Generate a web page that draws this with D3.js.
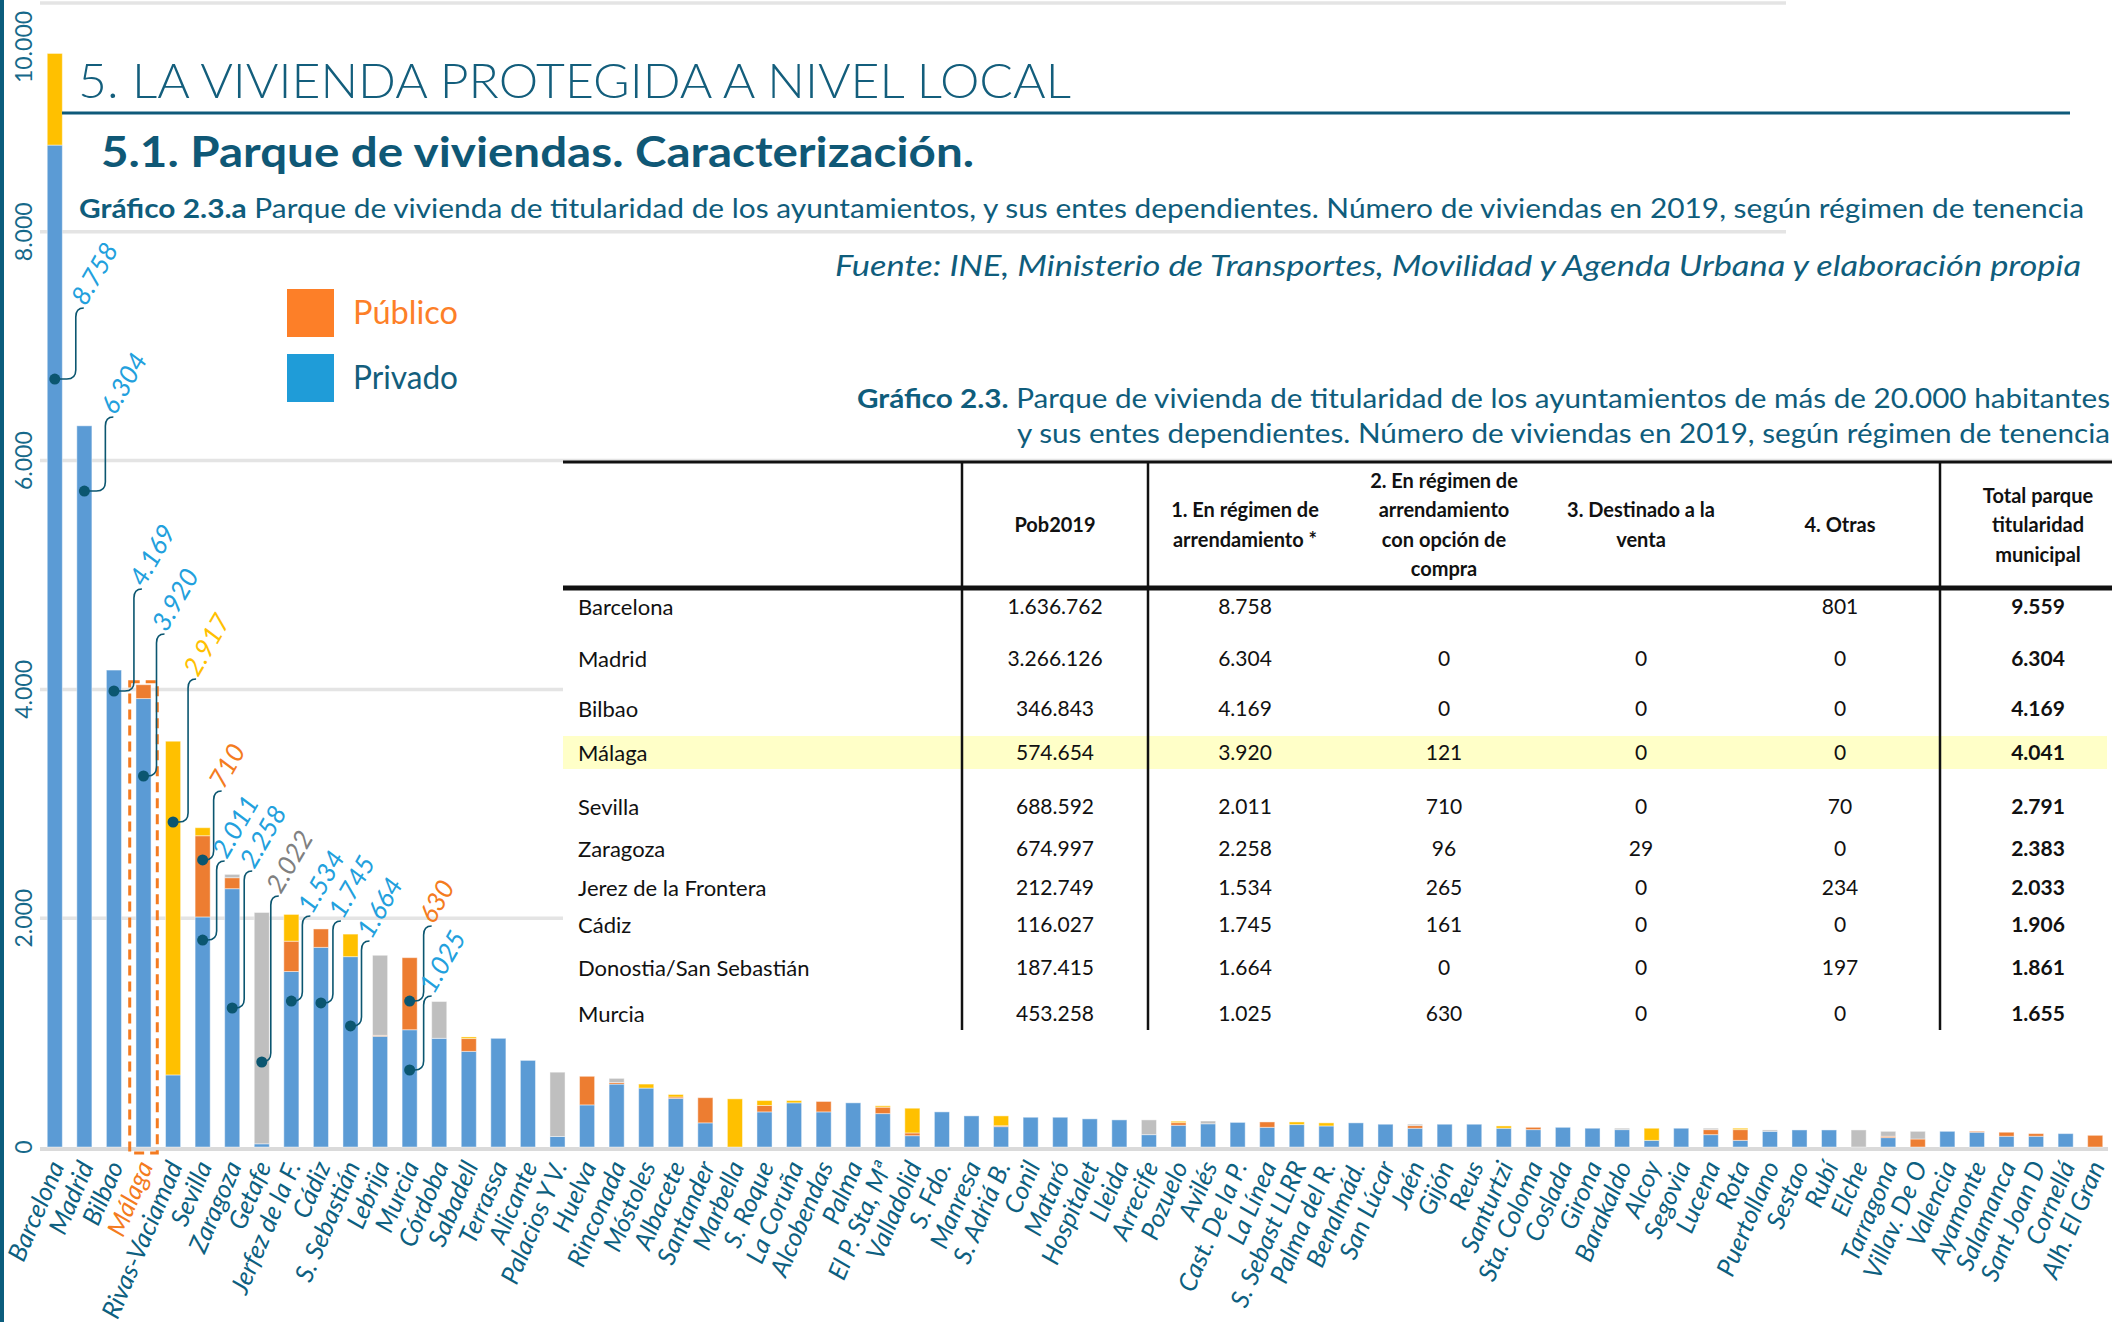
<!DOCTYPE html>
<html><head><meta charset="utf-8">
<script src="https://cdn.jsdelivr.net/npm/d3@7"></script>
<style>
html,body{margin:0;padding:0;background:#fff;}
svg{display:block;}
</style></head><body>
<script>
// ---------------- DATA ----------------
const categories = ["Barcelona","Madrid","Bilbao","Málaga","Rivas-Vaciamad","Sevilla","Zaragoza","Getafe","Jerfez de la F.","Cádiz","S. Sebastián","Lebrija","Murcia","Córdoba","Sabadell","Terrassa","Alicante","Palacios Y V.","Huelva","Rinconada","Móstoles","Albacete","Santander","Marbella","S. Roque","La Coruña","Alcobendas","Palma","El P. Sta, Mª","Valladolid","S. Fdo.","Manresa","S. Adriá B.","Conil","Mataró","Hospitalet","Lleida","Arrecife","Pozuelo","Avilés","Cast. De la P.","La Línea","S. Sebast LLRR","Palma del R.","Benalmád.","San Lúcar","Jaén","Gijón","Reus","Santurtzi","Sta.  Coloma","Coslada","Girona","Barakaldo","Alcoy","Segovia","Lucena","Rota","Puertollano","Sestao","Rubí","Elche","Tarragona","Villav. De O","Valencia","Ayamonte","Salamanca","Sant Joan D","Cornellá","Alh. El Gran"];
const arrendamiento = [8758,6304,4169,3920,630,2011,2258,28,1534,1745,1664,968,1025,950,836,950,757,92,368,550,515,425,211,0,307,386,307,386,292,99,307,272,178,260,260,246,237,108,190,203,215,172,196,184,211,199,164,199,199,164,152,172,164,152,58,164,108,58,137,149,149,0,82,0,137,129,94,94,117,0];
const opcionCompra = [0,0,0,121,0,710,96,0,265,161,0,8,630,0,112,0,0,0,250,14,0,12,220,0,56,0,91,0,56,24,0,0,8,0,0,0,0,0,23,0,0,47,0,0,0,0,23,0,0,0,20,0,0,0,0,0,44,94,0,0,0,0,12,70,0,8,35,23,0,102];
const destinadoVenta = [0,0,0,0,0,0,29,2022,0,0,0,700,0,322,0,0,0,562,0,36,0,0,0,0,0,0,0,0,0,0,0,0,0,0,0,0,0,129,0,24,0,0,0,0,0,0,12,0,0,0,0,0,0,12,0,0,12,0,12,0,0,149,43,67,0,0,0,0,0,0];
const otras = [801,0,0,0,2917,70,0,0,234,0,197,0,0,0,14,0,0,0,0,0,35,22,0,421,43,20,0,0,12,216,0,0,86,0,0,0,0,0,12,0,0,0,23,27,0,0,0,0,0,20,0,0,0,0,106,0,0,12,0,0,0,0,0,0,0,0,0,0,0,0];
const seriesKeys = ["arrendamiento","opcionCompra","destinadoVenta","otras"];
const seriesColors = ["#5b9bd5","#ed7d31","#bfbfbf","#ffc000"];
const yTicks = [0,2000,4000,6000,8000,10000];
const yTickLabels = ["0","2.000","4.000","6.000","8.000","10.000"];
const highlightCategory = "Málaga";
const legendLabels = ["Público","Privado"];

// callouts (category, series whose value is printed)
const calloutCats = ["Barcelona","Madrid","Bilbao","Málaga","Rivas-Vaciamad","Sevilla","Sevilla","Zaragoza","Getafe","Jerfez de la F.","Cádiz","S. Sebastián","Murcia","Murcia"];
const calloutSeries = ["arrendamiento","arrendamiento","arrendamiento","arrendamiento","otras","opcionCompra","arrendamiento","arrendamiento","destinadoVenta","arrendamiento","arrendamiento","arrendamiento","opcionCompra","arrendamiento"];

// table
const tableHeaders = [["Pob2019"],["1. En régimen de","arrendamiento *"],["2. En régimen de","arrendamiento","con opción de","compra"],["3. Destinado a la","venta"],["4. Otras"],["Total parque","titularidad","municipal"]];
const tableCities = ["Barcelona","Madrid","Bilbao","Málaga","Sevilla","Zaragoza","Jerez de la Frontera","Cádiz","Donostia/San Sebastián","Murcia"];
const tablePob = [1636762,3266126,346843,574654,688592,674997,212749,116027,187415,453258];
const tableArr = [8758,6304,4169,3920,2011,2258,1534,1745,1664,1025];
const tableOpc = [null,0,0,121,710,96,265,161,0,630];
const tableVenta = [null,0,0,0,0,29,0,0,0,0];
const tableOtras = [801,0,0,0,70,0,234,0,197,0];
const tableTotal = [9559,6304,4169,4041,2791,2383,2033,1906,1861,1655];

// ---------------- LAYOUT (not data) ----------------
const calloutDot = [6713,5734,3986,3243,2841,2509,1809,1215,743,1276,1259,1058,1276,673];
const calloutDx = [29,29,28,21,23,19,22,20,17,19,20,19,22,22];
const calloutRise = [71,74,102,142,143,69,79,137,166,85,82,85,75,74];
const tableColX = [1055,1245,1444,1641,1840,2038];
const tableRowY = [607,659,709,753,807,849,888,925,968,1014];

// ---------------- RENDER ----------------
const W = 2112, H = 1322;
const FONT = "Lato, 'Noto Sans', 'DejaVu Sans', sans-serif";
const TEAL = "#0f5d7c";
const es = d3.formatLocale({decimal:",", thousands:".", grouping:[3], currency:["","€"]});
const fmt = es.format(",d");

const svg = d3.select("body").append("svg").attr("width", W).attr("height", H)
  .style("font-family", FONT);

const x = d3.scaleBand().domain(categories).range([40, 2110]).paddingInner(0.49).paddingOuter(0.245);
const y = d3.scaleLinear().domain([0, 10000]).range([1147, 3]);
const color = d3.scaleOrdinal().domain(seriesKeys).range(seriesColors);
const seriesData = {arrendamiento, opcionCompra, destinadoVenta, otras};
const rows = categories.map((c, i) => {
  const r = {cat: c};
  seriesKeys.forEach(k => r[k] = seriesData[k][i]);
  return r;
});
const stacked = d3.stack().keys(seriesKeys)(rows);

// left accent bar
svg.append("rect").attr("x", 0).attr("y", 0).attr("width", 4).attr("height", H).attr("fill", "#0c5d7d");

// gridlines
svg.append("g").selectAll("line").data(yTicks.filter(v => v > 0)).join("line")
  .attr("x1", 40).attr("x2", W).attr("y1", d => y(d)).attr("y2", d => y(d))
  .attr("stroke", "#e4e4e4").attr("stroke-width", 3.5);
// zero line
svg.append("line").attr("x1", 40).attr("x2", W - 4).attr("y1", y(0) + 2).attr("y2", y(0) + 2)
  .attr("stroke", "#dadada").attr("stroke-width", 4);
// white cover at top-right (gridlines stop there)
svg.append("rect").attr("x", 1786).attr("y", 0).attr("width", W - 1786).attr("height", 250).attr("fill", "#fff");

// bars
svg.append("g").selectAll("g").data(stacked).join("g")
  .attr("fill", d => color(d.key))
  .selectAll("rect").data(d => d).join("rect")
  .attr("x", d => x(d.data.cat))
  .attr("width", x.bandwidth())
  .attr("y", d => y(d[1]))
  .attr("height", d => Math.max(0, y(d[0]) - y(d[1])))
  .attr("stroke", "rgba(255,255,255,0.45)").attr("stroke-width", 1);

// y axis labels
svg.append("g").selectAll("text").data(yTicks).join("text")
  .attr("transform", d => `translate(32,${Math.min(1153, Math.max(47, y(d)))}) rotate(-90)`)
  .attr("text-anchor", "middle")
  .attr("font-size", 23).attr("fill", "#16698a")
  .text((d, i) => yTickLabels[i]);

// x axis labels
svg.append("g").selectAll("text").data(categories).join("text")
  .attr("transform", d => `translate(${x(d) + x.bandwidth() / 2 + 10},1166) rotate(-67)`)
  .attr("text-anchor", "end")
  .attr("font-size", 25.5).attr("font-style", "italic")
  .attr("fill", d => d === highlightCategory ? "#f47b20" : "#0d5f80")
  .text(d => d);

// Málaga dashed box
const hIdx = categories.indexOf(highlightCategory);
const hTotal = seriesKeys.reduce((s, k) => s + seriesData[k][hIdx], 0);
svg.append("rect")
  .attr("x", x(highlightCategory) + x.bandwidth() / 2 - x.step() / 2 + 1)
  .attr("y", y(hTotal) - 3)
  .attr("width", x.step() - 2)
  .attr("height", y(0) + 6 - (y(hTotal) - 3))
  .attr("fill", "none").attr("stroke", "#f47b20").attr("stroke-width", 3)
  .attr("stroke-dasharray", "10,6");

// callouts
const labelColor = {arrendamiento: "#22a0dd", opcionCompra: "#f47b20", destinadoVenta: "#808080", otras: "#ffc000"};
const cg = svg.append("g");
calloutCats.forEach((c, i) => {
  const idx = categories.indexOf(c);
  const val = seriesData[calloutSeries[i]][idx];
  const cx = x(c) + x.bandwidth() / 2;
  const y0 = y(calloutDot[i]);
  const xt = cx + calloutDx[i], yt = y0 - calloutRise[i];
  const xv = xt - 8, r = 9;
  cg.append("path")
    .attr("d", `M${cx},${y0} H${xv - r} Q${xv},${y0} ${xv},${y0 - r} V${yt + r} Q${xv},${yt} ${xt},${yt}`)
    .attr("fill", "none").attr("stroke", "#0b5670").attr("stroke-width", 1.6);
  cg.append("circle").attr("cx", cx).attr("cy", y0).attr("r", 5.5).attr("fill", "#0b5670");
  cg.append("text")
    .attr("transform", `translate(${xt + 2},${yt - 1}) rotate(-60)`)
    .attr("font-size", 26).attr("font-style", "italic")
    .attr("fill", labelColor[calloutSeries[i]])
    .text(fmt(val));
});

// ---------------- HEADER ----------------
function fit(sel, target) {
  sel.each(function () {
    const w = this.getComputedTextLength();
    if (Math.abs(w - target) / target > 0.01) {
      d3.select(this).attr("textLength", target).attr("lengthAdjust", "spacingAndGlyphs");
    }
  });
}
const title = svg.append("text").attr("x", 78).attr("y", 98).attr("font-size", 48)
  .attr("font-weight", 300).attr("fill", "#135e7c").text("5. LA VIVIENDA PROTEGIDA A NIVEL LOCAL");
fit(title, 993);
svg.append("line").attr("x1", 62).attr("x2", 2070).attr("y1", 113).attr("y2", 113)
  .attr("stroke", "#0e5a7a").attr("stroke-width", 3);
const sub = svg.append("text").attr("x", 101).attr("y", 167).attr("font-size", 42)
  .attr("font-weight", 700).attr("fill", "#0f5876").text("5.1. Parque de viviendas. Caracterización.");
fit(sub, 873);
const g23a = svg.append("text").attr("x", 79).attr("y", 218).attr("font-size", 27).attr("fill", TEAL);
g23a.append("tspan").attr("font-weight", 700).text("Gráfico 2.3.a");
g23a.append("tspan").text(" Parque de vivienda de titularidad de los ayuntamientos, y sus entes dependientes. Número de viviendas en 2019, según régimen de tenencia");
fit(g23a, 2005);
const fuente = svg.append("text").attr("x", 2081).attr("y", 276).attr("text-anchor", "end")
  .attr("font-size", 29).attr("font-style", "italic").attr("fill", TEAL)
  .text("Fuente: INE, Ministerio de Transportes, Movilidad y Agenda Urbana y elaboración propia");
fit(fuente, 1246);

// legend
const legColors = ["#fd7f28", "#1f9cd8"];
const legText = ["#fd7f28", "#135e7c"];
legendLabels.forEach((l, i) => {
  svg.append("rect").attr("x", 287).attr("y", 289 + i * 65).attr("width", 47).attr("height", 48).attr("fill", legColors[i]);
  const t = svg.append("text").attr("x", 353).attr("y", 324 + i * 65).attr("font-size", 32).attr("fill", legText[i]).text(l);
  fit(t, 105);
});

// table title
const g23 = svg.append("text").attr("x", 2110).attr("y", 408).attr("text-anchor", "end").attr("font-size", 27).attr("fill", TEAL);
g23.append("tspan").attr("font-weight", 700).text("Gráfico 2.3.");
g23.append("tspan").text(" Parque de vivienda de titularidad de los ayuntamientos de más de 20.000 habitantes");
fit(g23, 1253);
const g23b = svg.append("text").attr("x", 2110).attr("y", 443).attr("text-anchor", "end").attr("font-size", 27).attr("fill", TEAL)
  .text("y sus entes dependientes. Número de viviendas en 2019, según régimen de tenencia");
fit(g23b, 1093);

// ---------------- TABLE ----------------
const tg = svg.append("g").attr("font-family", FONT);
tg.append("rect").attr("x", 563).attr("y", 462).attr("width", W - 563).attr("height", 568).attr("fill", "#fff");
tg.append("rect").attr("x", 563).attr("y", 736).attr("width", 2107 - 563).attr("height", 33).attr("fill", "#ffffc8");
[962, 1148, 1940].forEach(vx => {
  tg.append("line").attr("x1", vx).attr("x2", vx).attr("y1", 462).attr("y2", 1030).attr("stroke", "#111").attr("stroke-width", 2.5);
});
tg.append("line").attr("x1", 563).attr("x2", W).attr("y1", 462).attr("y2", 462).attr("stroke", "#111").attr("stroke-width", 3);
tg.append("line").attr("x1", 563).attr("x2", W).attr("y1", 588).attr("y2", 588).attr("stroke", "#111").attr("stroke-width", 5);

tableHeaders.forEach((lines, ci) => {
  const n = lines.length, lh = 29.5, mid = 525;
  lines.forEach((ln, li) => {
    tg.append("text").attr("x", tableColX[ci]).attr("y", mid + (li - (n - 1) / 2) * lh)
      .attr("dy", "0.35em").attr("text-anchor", "middle").attr("font-size", 20).attr("font-weight", 700)
      .attr("fill", "#111").text(ln);
  });
});
const cols = [tablePob, tableArr, tableOpc, tableVenta, tableOtras, tableTotal];
tableCities.forEach((c, ri) => {
  tg.append("text").attr("x", 578).attr("y", tableRowY[ri]).attr("dy", "0.35em")
    .attr("font-size", 22).attr("fill", "#111").text(c);
  cols.forEach((col, ci) => {
    const v = col[ri];
    if (v === null) return;
    tg.append("text").attr("x", tableColX[ci]).attr("y", tableRowY[ri]).attr("dy", "0.35em")
      .attr("text-anchor", "middle").attr("font-size", 21)
      .attr("font-weight", ci === 5 ? 700 : 400).attr("fill", "#111").text(fmt(v));
  });
});
</script>
</body></html>
